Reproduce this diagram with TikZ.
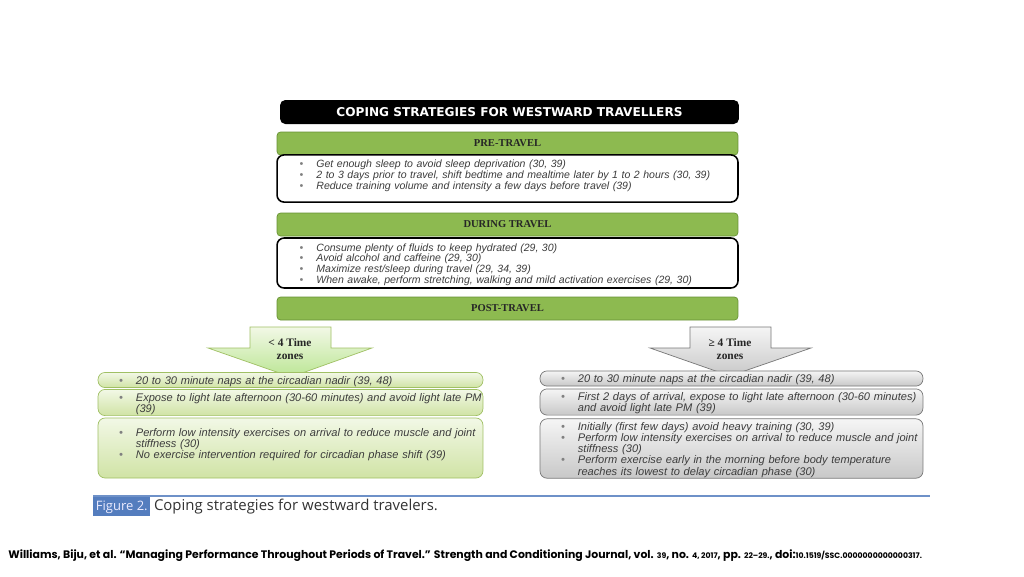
\documentclass[tikz,border=0pt]{standalone}
\usepackage{fontspec}
\setmainfont{Liberation Sans}
\newfontfamily\headfont{Liberation Serif}
\newfontfamily\titlefont{DejaVu Sans}
\newfontfamily\capfont{Open Sans}
\newfontfamily\citefont{Poppins}
\usetikzlibrary{positioning}
\definecolor{bandgreen}{RGB}{141,186,80}
\definecolor{bandedge}{RGB}{104,146,52}
\definecolor{lboxtop}{RGB}{242,248,230}
\definecolor{lboxbot}{RGB}{208,227,165}
\definecolor{lboxedge}{RGB}{160,192,100}
\definecolor{rboxtop}{RGB}{245,245,245}
\definecolor{rboxbot}{RGB}{200,200,200}
\definecolor{rboxedge}{RGB}{120,120,120}
\definecolor{capblue}{RGB}{84,125,190}
\definecolor{txtgray}{RGB}{60,60,60}
\newcommand{\bl}[1]{\par\noindent\makebox[9.6pt][l]{\textcolor{gray}{\textbullet}}\mbox{#1}}
\newcommand{\cl}[1]{\par\noindent\hspace*{9.6pt}\mbox{#1}}
\newcommand{\sm}[1]{{\fontsize{4.4}{5}\selectfont #1}}
\hfuzz=40pt \hbadness=10000

\begin{document}
\begin{tikzpicture}[x=0.02cm, y=-0.02cm,
    title/.style={rectangle, fill=black, rounded corners=3pt, minimum width=9.18cm, minimum height=0.48cm, inner sep=0pt, text=white, font=\titlefont\bfseries\fontsize{6.9}{8}\selectfont},
    band/.style={rectangle, draw=bandedge, fill=bandgreen, rounded corners=2pt, minimum width=9.22cm, minimum height=0.46cm, inner sep=0pt, text=black!85, font=\headfont\bfseries\fontsize{6}{7}\selectfont},
    panel/.style={rectangle, draw=black, line width=0.9pt, rounded corners=4pt, fill=white, text width=8.32cm, inner xsep=0.45cm, inner ysep=1pt, align=left, text=txtgray, font=\itshape\fontsize{6}{6.2}\selectfont},
    lbox/.style={rectangle, draw=lboxedge, top color=lboxtop, bottom color=lboxbot, rounded corners=4pt, text width=6.86cm, inner xsep=0.42cm, inner ysep=0.5pt, align=left, text=txtgray, font=\itshape\fontsize{6.3}{6.3}\selectfont},
    rbox/.style={rectangle, draw=rboxedge, top color=rboxtop, bottom color=rboxbot, rounded corners=4pt, text width=6.82cm, inner xsep=0.42cm, inner ysep=0.5pt, align=left, text=txtgray, font=\itshape\fontsize{6.3}{6.3}\selectfont},
    zone/.style={align=center, text=black!85, font=\headfont\bfseries\fontsize{6.5}{7}\selectfont},
    greenarrow/.style={draw=lboxedge, top color=lboxtop, bottom color=lboxbot!90!green},
    grayarrow/.style={draw=rboxedge, top color=rboxtop, bottom color=rboxbot}]
\path[fill=white] (0,0) rectangle (1024,576);
\node[title] (head) at (509.5,112) {COPING STRATEGIES FOR WESTWARD TRAVELLERS};
\node[band] (pre) at (507.5,143.5) {PRE-TRAVEL};
\node[panel, minimum height=0.86cm] (prebox) at (507.5,178.5) {%
\bl{Get enough sleep to avoid sleep deprivation (30, 39)}
\bl{2 to 3 days prior to travel, shift bedtime and mealtime later by 1 to 2 hours (30, 39)}
\bl{Reduce training volume and intensity a few days before travel (39)}\par\vspace*{5pt}};
\node[band] (during) at (507.5,224.5) {DURING TRAVEL};
\node[panel, minimum height=1.0cm] (durbox) at (507.5,263) {%
\bl{Consume plenty of fluids to keep hydrated (29, 30)}
\bl{Avoid alcohol and caffeine (29, 30)}
\bl{Maximize rest/sleep during travel (29, 34, 39)}
\bl{When awake, perform stretching, walking and mild activation exercises (29, 30)}};
\node[band] (post) at (507.5,308.5) {POST-TRAVEL};
\draw[greenarrow] (250,327) -- (331,327) -- (331,348) -- (372,348) -- (291,377) -- (208,348) -- (250,348) -- cycle;
\draw[grayarrow] (690,327) -- (771,327) -- (771,348) -- (811,348) -- (730,376) -- (650,348) -- (690,348) -- cycle;
\node[zone] (few) at (290,349) {< 4 Time\\zones};
\node[zone] (many) at (730,349) {≥ 4 Time\\zones};
\node[lbox, minimum height=0.28cm] (l1) at (290.5,380) {%
\bl{20 to 30 minute naps at the circadian nadir (39, 48)}};
\node[lbox, minimum height=0.5cm] (l2) at (290.5,402.5) {%
\bl{Expose to light late afternoon (30-60 minutes) and avoid light late PM}
\cl{(39)}};
\node[lbox, minimum height=1.2cm] (l3) at (290.5,448) {%
\bl{Perform low intensity exercises on arrival to reduce muscle and joint}
\cl{stiffness (30)}
\bl{No exercise intervention required for circadian phase shift (39)}\par\vspace*{6pt}};
\node[rbox, minimum height=0.3cm] (r1) at (731.5,378.5) {%
\bl{20 to 30 minute naps at the circadian nadir (39, 48)}};
\node[rbox, minimum height=0.52cm] (r2) at (731.5,402) {%
\bl{First 2 days of arrival, expose to light late afternoon (30-60 minutes)}
\cl{and avoid light late PM (39)}};
\node[rbox, minimum height=1.18cm] (r3) at (731.5,448.5) {%
\bl{Initially (first few days) avoid heavy training (30, 39)}
\bl{Perform low intensity exercises on arrival to reduce muscle and joint}
\cl{stiffness (30)}
\bl{Perform exercise early in the morning before body temperature}
\cl{reaches its lowest to delay circadian phase (30)}};
\coordinate (rulel) at (93,496);
\coordinate (ruler) at (930,496);
\draw[capblue!85, line width=1.3pt] (rulel) -- (ruler);
\node[fill=capblue, anchor=north west, minimum height=0.38cm, inner xsep=1.5pt, inner ysep=0pt, text=blue!8, font=\capfont\fontsize{7.4}{8}\selectfont] (fig) at (93,497) {Figure 2.};
\node[inner sep=0pt, text=black!80, font=\capfont\fontsize{8.5}{9}\selectfont, right=0.06cm of fig] (caption) {Coping strategies for westward travelers.};
\node[anchor=west, inner sep=0pt, text=black, font=\citefont\bfseries\fontsize{6.2}{7}\selectfont] (cite) at (8,556) {Williams, Biju, et al. “Managing Performance Throughout Periods of Travel.” Strength and Conditioning Journal, vol. \sm{39}, no. \sm{4, 2017}, pp. \sm{22–29.}, doi:\sm{10.1519/SSC.0000000000000317.}};
\end{tikzpicture}
\end{document}
